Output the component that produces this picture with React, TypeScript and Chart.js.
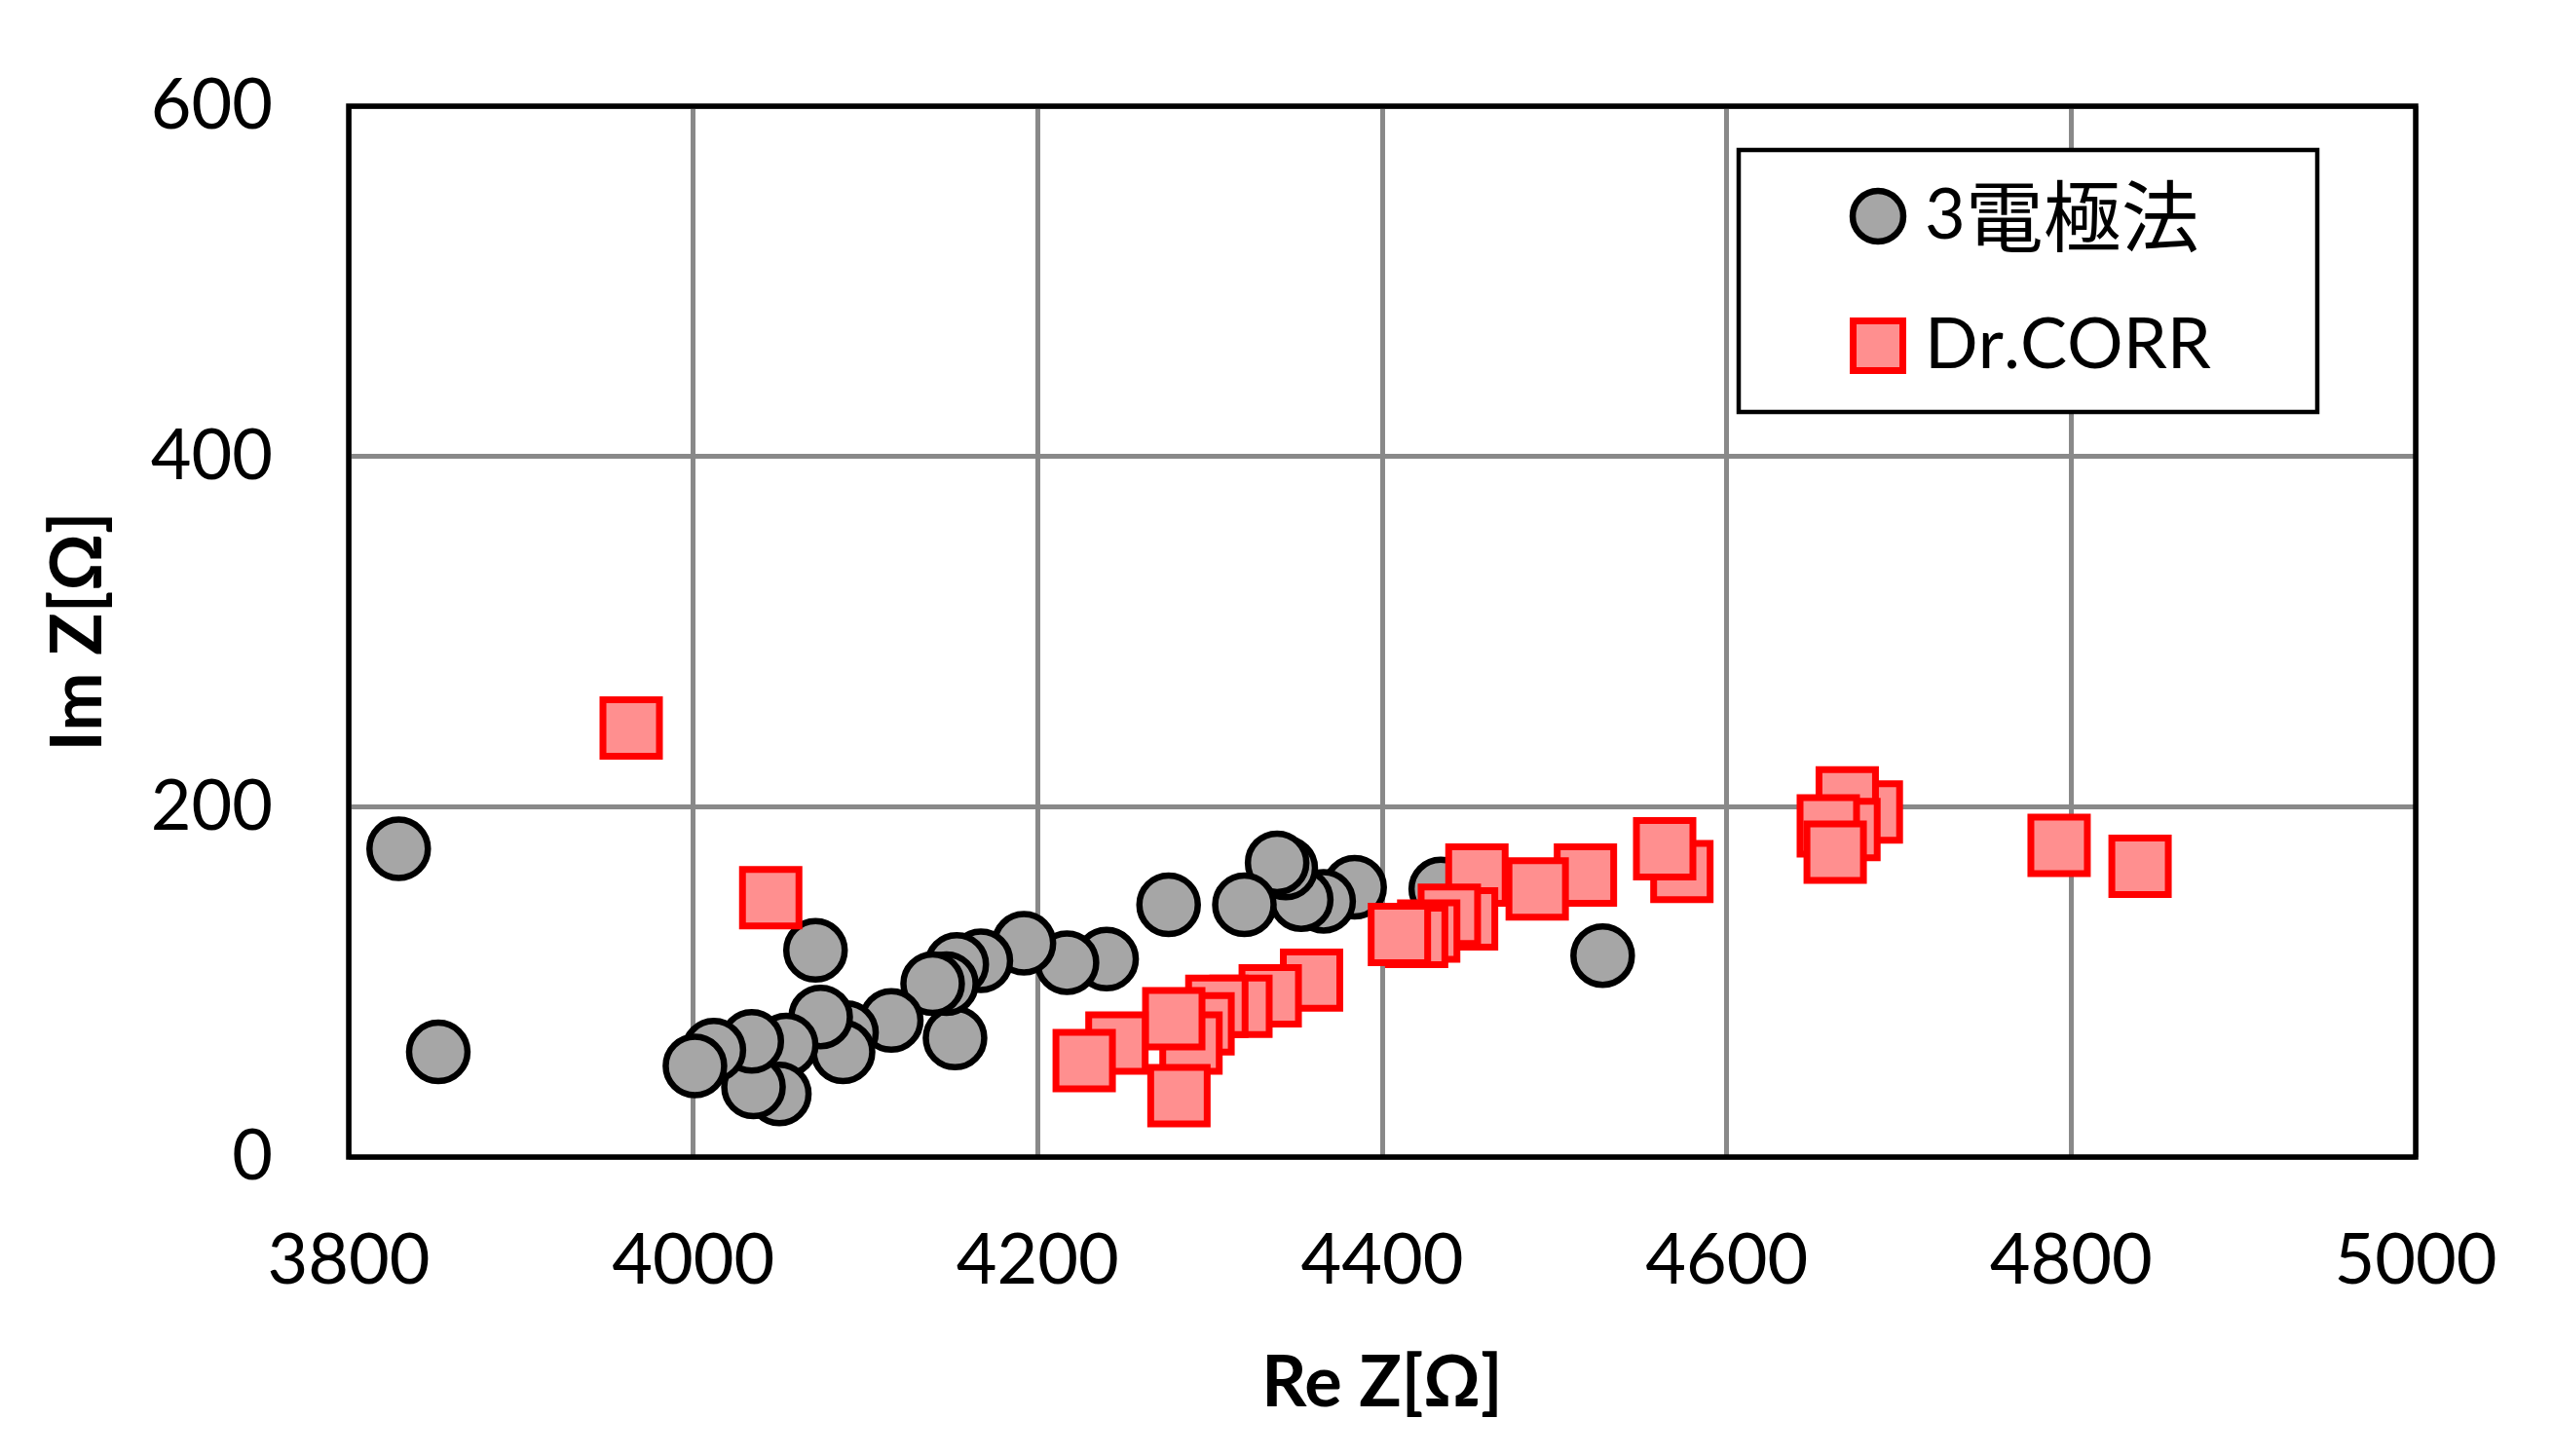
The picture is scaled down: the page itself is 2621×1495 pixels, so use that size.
import React, { useEffect, useRef } from "react";
import { Chart, registerables } from "chart.js";

Chart.register(...registerables);

// 3電極法 (circles)
const circleRe = [4528, 4434, 4384, 4366, 4353, 4344, 4339, 4320, 4276, 4240, 4217, 4192, 4167, 4153, 4152, 4147, 4139, 4115, 4089, 4087, 4074, 4071, 4054, 4050, 4035, 4034, 4012, 4001, 3852, 3829];
const circleIm = [115, 153, 154, 146, 147, 165, 168, 144, 144, 113, 111, 122, 112, 110, 68, 99, 99, 78, 71, 60, 80, 118, 64, 36, 40, 66, 61, 52, 60, 176];

// Dr.CORR (squares)
const squareRe = [4840, 4793, 4684, 4670, 4671, 4659, 4663, 4574, 4564, 4518, 4490, 4455, 4449, 4439, 4427, 4420, 4410, 4359, 4335, 4318, 4304, 4296, 4289, 4279, 4246, 4282, 4227, 4045, 3964];
const squareIm = [166, 178, 197, 205, 187, 189, 174, 163, 176, 161, 153, 161, 136, 138, 129, 126, 127, 101, 92, 86, 86, 76, 65, 79, 65, 35, 55, 148, 245];

const seriesNames = ["3電極法", "Dr.CORR"];
const xTicks = [3800, 4000, 4200, 4400, 4600, 4800, 5000];
const yTicks = [0, 200, 400, 600];
const xTitle = "Re Z[Ω]";
const yTitle = "Im Z[Ω]";

const FONT = "Lato, 'Noto Sans CJK JP', sans-serif";
const CJK_FONT = "'Noto Sans CJK JP', sans-serif";

const toPoints = (xs: number[], ys: number[]) => xs.map((x, i) => ({ x, y: ys[i] }));

export default function App() {
  const ref = useRef<HTMLCanvasElement | null>(null);

  useEffect(() => {
    if (!ref.current) return;

    const framePlugin = {
      id: "frame",
      beforeDatasetsDraw(chart: any) {
        const { ctx, chartArea: a } = chart;
        ctx.save();
        ctx.strokeStyle = "#000000";
        ctx.lineWidth = 5.5;
        ctx.strokeRect(a.left, a.top, a.right - a.left, a.bottom - a.top);
        ctx.restore();
      },
    };

    const legendPlugin = {
      id: "customLegend",
      afterDraw(chart: any) {
        const { ctx, chartArea: a } = chart;
        const w = 594;
        const h = 269;
        const bx = a.right - 101 - w;
        const by = a.top + 45;
        ctx.save();
        ctx.fillStyle = "#ffffff";
        ctx.fillRect(bx, by, w, h);
        ctx.strokeStyle = "#000000";
        ctx.lineWidth = 4.5;
        ctx.strokeRect(bx, by, w, h);
        const rows = [by + 68, by + 201];
        chart.data.datasets.forEach((ds: any, i: number) => {
          const cx = bx + 143;
          const cy = rows[i];
          ctx.fillStyle = ds.backgroundColor;
          ctx.strokeStyle = ds.borderColor;
          ctx.lineWidth = ds.borderWidth;
          ctx.beginPath();
          if (ds.pointStyle === "circle") {
            ctx.arc(cx, cy, 26, 0, Math.PI * 2);
          } else {
            ctx.rect(cx - 25.5, cy - 25.5, 51, 51);
          }
          ctx.fill();
          ctx.stroke();
          ctx.fillStyle = "#000000";
          ctx.textBaseline = "middle";
          ctx.textAlign = "left";
          let tx = bx + 191;
          for (const ch of String(ds.label)) {
            const isCJK = ch.charCodeAt(0) > 0x2e80;
            ctx.font = isCJK ? `80px ${CJK_FONT}` : `72px ${FONT}`;
            ctx.fillText(ch, tx, cy);
            tx += ctx.measureText(ch).width;
          }
        });
        ctx.restore();
      },
    };

    const chart = new Chart(ref.current, {
      type: "scatter",
      data: {
        datasets: [
          {
            label: seriesNames[0],
            data: toPoints(circleRe, circleIm),
            pointStyle: "circle",
            pointRadius: 30,
            pointHoverRadius: 30,
            backgroundColor: "#A6A6A6",
            borderColor: "#000000",
            borderWidth: 6.5,
            order: 2,
          },
          {
            label: seriesNames[1],
            data: toPoints(squareRe, squareIm),
            pointStyle: "rect",
            pointRadius: 41,
            pointHoverRadius: 41,
            backgroundColor: "#FF8F8F",
            borderColor: "#FF0000",
            borderWidth: 7,
            order: 1,
          },
        ],
      },
      options: {
        responsive: false,
        animation: false,
        layout: { autoPadding: false, padding: { top: 109, right: 141, bottom: 0, left: 0 } },
        plugins: {
          legend: { display: false },
          tooltip: { enabled: false },
        },
        scales: {
          x: {
            type: "linear",
            min: 3800,
            max: 5000,
            afterBuildTicks: (s: any) => {
              s.ticks = xTicks.map((v) => ({ value: v }));
            },
            afterFit: (s: any) => {
              s.height = 307;
            },
            ticks: {
              autoSkip: false,
              maxRotation: 0,
              padding: 0,
              color: "#000000",
              font: { family: FONT, size: 72 },
              callback: (v: any) => String(v),
            },
            grid: {
              color: "#898989",
              lineWidth: 5,
              drawTicks: true,
              tickLength: 64,
              tickColor: "rgba(0,0,0,0)",
            },
            border: { display: false },
            title: {
              display: true,
              text: xTitle,
              color: "#000000",
              font: { family: FONT, size: 72, weight: "bold" },
              padding: { top: 0, bottom: 31 },
            },
          },
          y: {
            type: "linear",
            min: 0,
            max: 600,
            afterBuildTicks: (s: any) => {
              s.ticks = yTicks.map((v) => ({ value: v }));
            },
            afterFit: (s: any) => {
              s.width = 358;
            },
            ticks: {
              padding: 0,
              color: "#000000",
              font: { family: FONT, size: 72 },
              callback: (v: any) => String(v),
            },
            grid: {
              color: "#898989",
              lineWidth: 5,
              drawTicks: true,
              tickLength: 78,
              tickColor: "rgba(0,0,0,0)",
            },
            border: { display: false },
            title: {
              display: true,
              text: yTitle,
              color: "#000000",
              font: { family: FONT, size: 72, weight: "bold" },
              padding: { top: 38, bottom: 0 },
            },
          },
        },
      },
      plugins: [framePlugin, legendPlugin],
    });

    return () => chart.destroy();
  }, []);

  return (
    <div style={{ position: "fixed", left: 0, top: 0, width: 2621, height: 1495, background: "#ffffff" }}>
      <canvas ref={ref} width={2621} height={1495} style={{ display: "block" }} />
    </div>
  );
}
